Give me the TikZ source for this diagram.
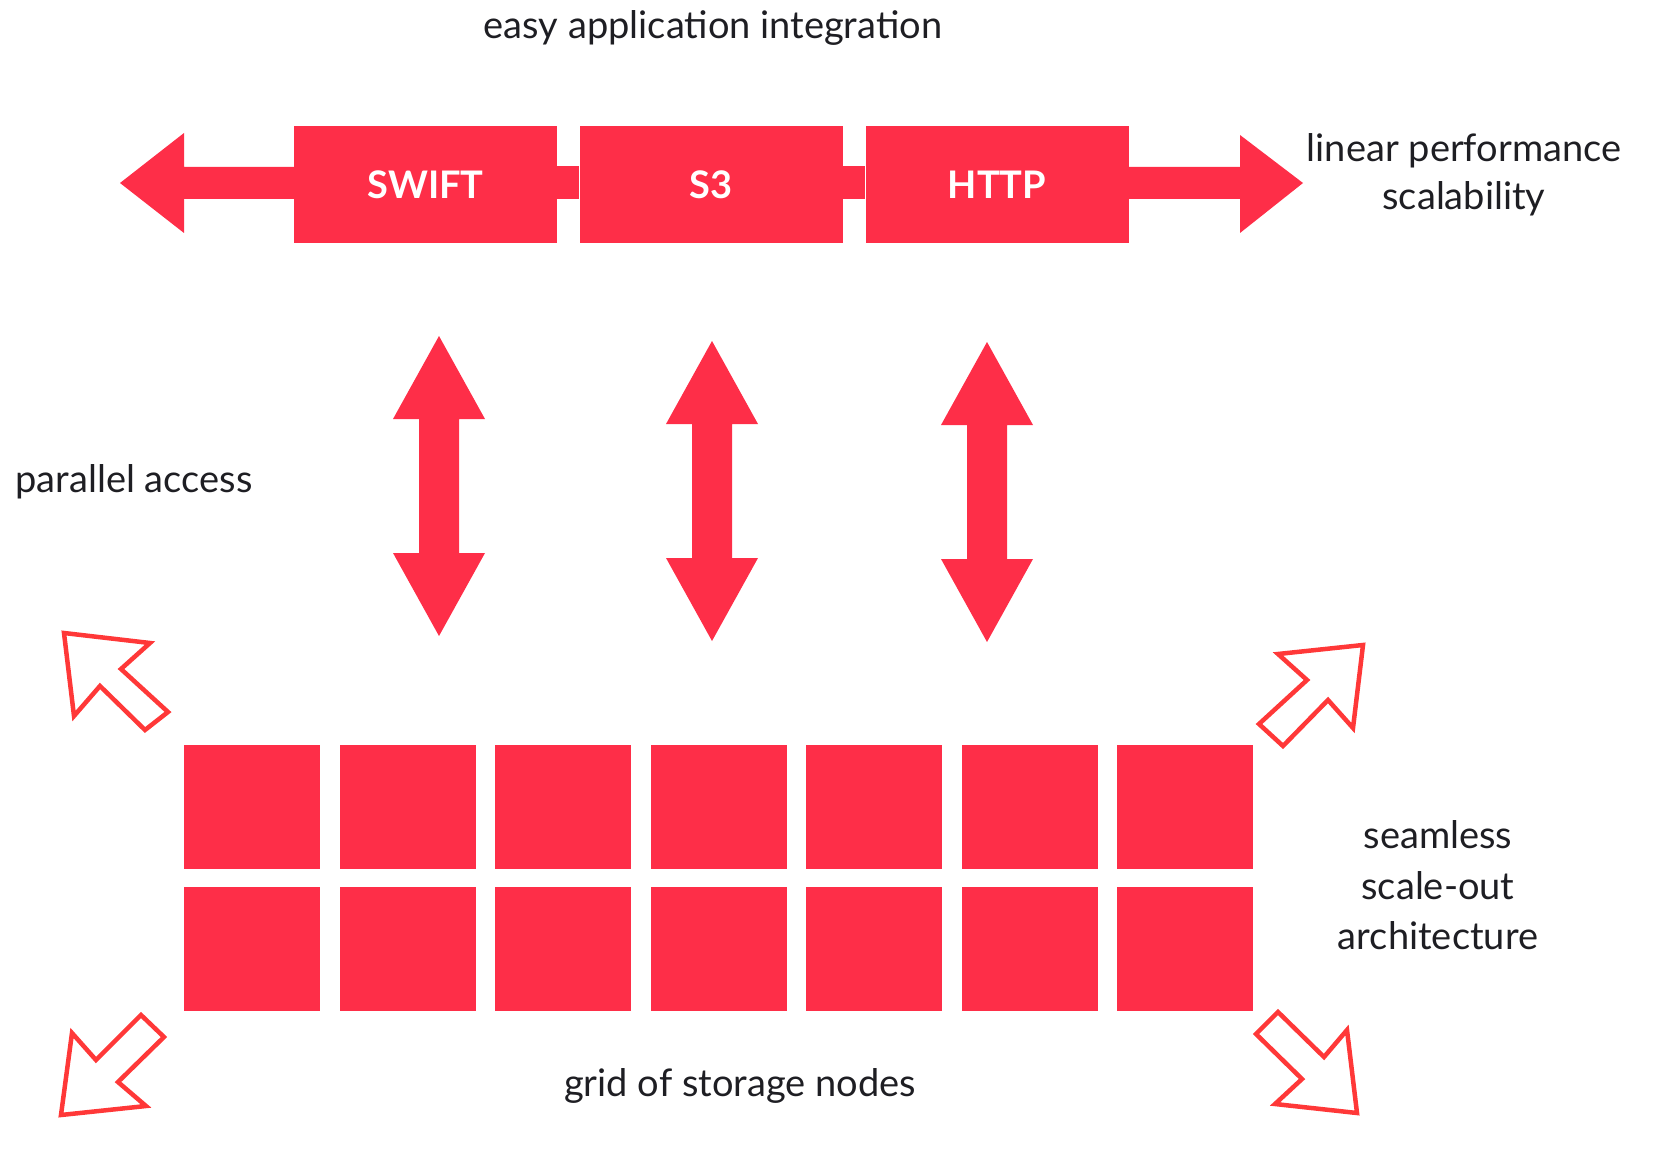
\documentclass[tikz,border=0pt]{standalone}
\usepackage{fontspec}
\setmainfont{Lato}
\definecolor{bred}{RGB}{254,46,72}
\definecolor{ored}{RGB}{255,56,56}
\definecolor{txt}{RGB}{30,30,35}
\begin{document}
\begin{tikzpicture}[x=1pt,y=-1pt,
  lbl/.style={font=\fontsize{38}{48}\selectfont, text=txt, inner sep=0pt, anchor=base},
  pbox/.style={fill=bred, minimum width=263pt, minimum height=117pt, inner sep=0pt, text=white, font=\fontsize{38}{46}\selectfont\bfseries},
  cell/.style={fill=bred, minimum width=136pt, minimum height=124pt, inner sep=0pt, anchor=north west},
  outarrow/.style={draw=ored, line width=4.5pt, fill=white, line join=miter},
  vdarrow/.pic={\fill[bred] (0,0) -- (46,83) -- (20,83) -- (20,217) -- (46,217) -- (0,300) -- (-46,217) -- (-20,217) -- (-20,83) -- (-46,83) -- cycle;}]
\useasboundingbox (0,0) rectangle (1664,1158);

% top protocol row
\node[pbox] (swift) at (425.5,184.5) {SWIFT};
\node[pbox] (s3) at (711,184.5) {S3};
\node[pbox] (http) at (997,184.5) {HTTP};
\fill[bred] (120,183) -- (184,133) -- (184,167) -- (swift.west |- 0,167) -- (swift.west |- 0,199) -- (184,199) -- (184,233) -- cycle;
\fill[bred] (swift.east |- 0,166) rectangle (s3.west |- 0,199);
\fill[bred] (s3.east |- 0,166) rectangle (http.west |- 0,199);
\fill[bred] (http.east |- 0,167) -- (1240,167) -- (1240,135) -- (1303,183) -- (1240,233) -- (1240,199) -- (http.east |- 0,199) -- cycle;

% vertical double arrows
\pic at (439,336) {vdarrow};
\pic at (712,341) {vdarrow};
\pic at (987,342) {vdarrow};

% grid of storage nodes
\foreach \i in {0,...,6}{
  \node[cell] (a\i) at ({184+155.5*\i},745) {};
  \node[cell] (b\i) at ({184+155.5*\i},887) {};
}

% corner outline arrows
\draw[outarrow] (64,633) -- (150,643) -- (121,669) -- (168,712) -- (145,730) -- (100,686) -- (74,716) -- cycle;
\draw[outarrow] (1363,645) -- (1278,654) -- (1307,680) -- (1259,724) -- (1283,746) -- (1328,700) -- (1353,728) -- cycle;
\draw[outarrow] (61,1115) -- (72,1033) -- (96,1060) -- (141,1015) -- (164,1037) -- (118,1082) -- (146,1106) -- cycle;
\draw[outarrow] (1278,1012) -- (1256,1034) -- (1302,1079) -- (1275,1104) -- (1357,1113) -- (1347,1030) -- (1324,1057) -- cycle;

% labels
\node[lbl] (t1) at (713,39) {easy application integration};
\node[lbl] (t2) at (1464,162) {linear performance};
\node[lbl] (t3) at (1464,210) {scalability};
\node[lbl] (t4) at (134,492) {parallel access};
\node[lbl] (t5) at (1438,848) {seamless};
\node[lbl] (t6) at (1438,899) {scale-out};
\node[lbl] (t7) at (1438,949) {architecture};
\node[lbl] (t8) at (740,1096) {grid of storage nodes};
\end{tikzpicture}
\end{document}
